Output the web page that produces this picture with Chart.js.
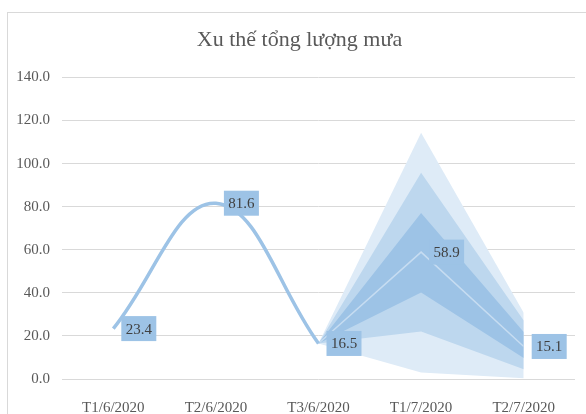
<!DOCTYPE html>
<html>
<head>
<meta charset="utf-8">
<script src="https://cdn.jsdelivr.net/npm/chart.js@4/dist/chart.umd.min.js"></script>
<style>
  body { margin: 0; background: #fff; }
  #wrap { position: relative; width: 586px; height: 414px; }
</style>
</head>
<body>
<div id="wrap"><canvas id="rainChart"></canvas></div>
<script>
// data
const labels = ['T1/6/2020', 'T2/6/2020', 'T3/6/2020', 'T1/7/2020', 'T2/7/2020'];
const actual = [23.4, 81.6, 16.5, null, null];
const forecast = [null, null, 16.5, 58.9, 15.1];
// forecast bands (inner / middle / outer)
const innerUp = [null, null, 16.5, 77.0, 21.8];
const innerLow = [null, null, 16.5, 40.1, 9.8];
const midUp = [null, null, 16.5, 95.7, 27.2];
const midLow = [null, null, 16.5, 22.0, 4.5];
const outerUp = [null, null, 16.5, 114.3, 30.8];
const outerLow = [null, null, 16.5, 3.0, 0.3];
const yTicks = [0, 20, 40, 60, 80, 100, 120, 140];

const serif = "'Liberation Serif', 'Times New Roman', serif";

function band(d, fill, color) {
  return {
    data: d,
    fill: fill,
    backgroundColor: color,
    borderWidth: 0,
    pointRadius: 0,
    tension: 0
  };
}

// frame round the chart, and nudge the title a bit right like the original
const framePlugin = {
  id: 'frame',
  afterLayout(chart) {
    if (chart.titleBlock) chart.titleBlock.left = 24;
  },
  beforeDraw(chart) {
    const ctx = chart.ctx;
    ctx.save();
    ctx.fillStyle = '#fff';
    ctx.fillRect(0, 0, chart.width, chart.height);
    ctx.strokeStyle = '#d9d9d9';
    ctx.lineWidth = 1;
    ctx.strokeRect(7.5, 12.5, 700, 500);
    ctx.restore();
  }
};

// boxed value labels to the right of the points
const boxLabels = {
  id: 'boxLabels',
  afterDatasetsDraw(chart) {
    const ctx = chart.ctx;
    ctx.save();
    ctx.font = '15px ' + serif;
    ctx.textAlign = 'center';
    ctx.textBaseline = 'middle';
    chart.data.datasets.forEach((ds, di) => {
      if (!ds.labelAt) return;
      const meta = chart.getDatasetMeta(di);
      ds.labelAt.forEach(i => {
        const pt = meta.data[i];
        const w = 35, h = 25;
        const x = pt.x + 8;
        ctx.fillStyle = '#9dc3e6';
        ctx.fillRect(x, pt.y - h / 2, w, h);
        ctx.fillStyle = '#404040';
        ctx.fillText(ds.data[i].toFixed(1), x + w / 2, pt.y + 1);
      });
    });
    ctx.restore();
  }
};

const config = {
  type: 'line',
  data: {
    labels: labels,
    datasets: [
      {
        data: actual,
        borderColor: '#9dc3e6',
        borderWidth: 3.5,
        pointRadius: 0,
        tension: 0.4,
        fill: false,
        labelAt: [0, 1, 2]
      },
      {
        data: forecast,
        borderColor: '#c6dcf1',
        borderWidth: 1.5,
        pointRadius: 0,
        tension: 0,
        fill: false,
        labelAt: [3, 4]
      },
      band(innerUp, '+1', '#9dc3e6'),
      band(innerLow, false, 'rgba(0,0,0,0)'),
      band(midUp, '+1', '#bdd7ee'),
      band(midLow, false, 'rgba(0,0,0,0)'),
      band(outerUp, '+1', '#deebf7'),
      band(outerLow, false, 'rgba(0,0,0,0)')
    ]
  },
  options: {
    responsive: true,
    maintainAspectRatio: false,
    animation: false,
    layout: { padding: { left: 0, right: 11, top: 0, bottom: 0 } },
    plugins: {
      legend: { display: false },
      tooltip: { enabled: false },
      title: {
        display: true,
        text: 'Xu thế tổng lượng mưa',
        color: '#595959',
        font: { family: serif, size: 22, weight: 'normal' },
        padding: { top: 27, bottom: 24 }
      }
    },
    scales: {
      x: {
        offset: true,
        grid: { display: false },
        border: { display: false },
        ticks: {
          color: '#595959',
          font: { family: serif, size: 15 },
          padding: 12,
          maxRotation: 0
        },
        afterFit(scale) { scale.height = 35; }
      },
      y: {
        min: 0,
        max: 140,
        afterBuildTicks(scale) { scale.ticks = yTicks.map(v => ({ value: v })); },
        grid: { color: '#d9d9d9', drawTicks: false },
        border: { display: false },
        ticks: {
          color: '#595959',
          font: { family: serif, size: 15 },
          padding: 12,
          callback: v => v.toFixed(1)
        },
        afterFit(scale) { scale.width = 62; }
      }
    }
  },
  plugins: [framePlugin, boxLabels]
};

const rainChart = new Chart(document.getElementById('rainChart'), config);
</script>
</body>
</html>
